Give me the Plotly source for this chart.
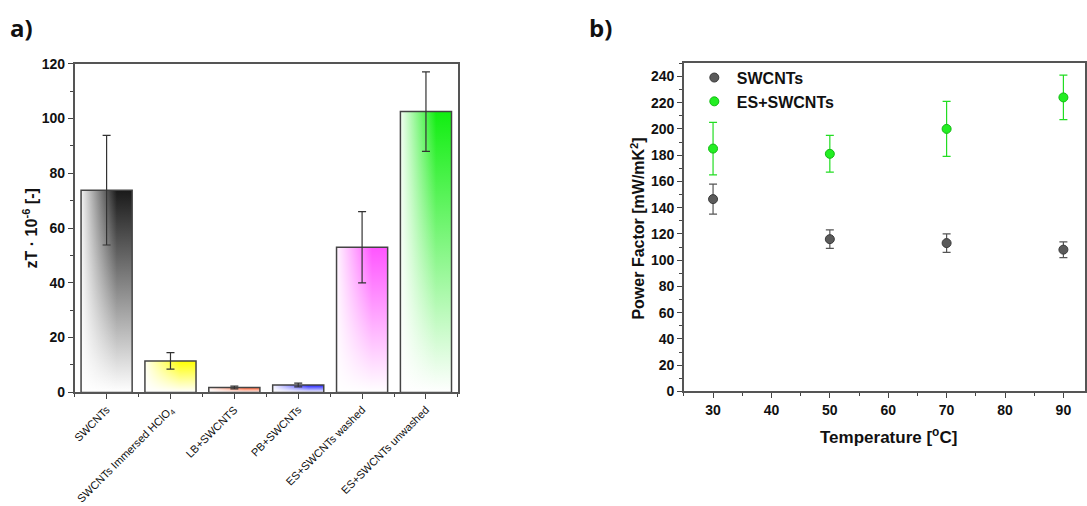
import plotly.graph_objects as go

W, H = 1087, 506

# ---- data: panel a ----
categories = ["SWCNTs", "SWCNTs Immersed HClO<sub>4</sub>", "LB+SWCNTS", "PB+SWCNTs",
              "ES+SWCNTs washed", "ES+SWCNTs unwashed"]
zt_values = [73.8, 11.5, 1.8, 2.7, 53.0, 102.5]
zt_errors = [20.0, 3.0, 0.5, 0.7, 13.0, 14.5]
bar_colors = ["#1a1a1a", "#ffff00", "#ff5a2a", "#1a1aff", "#ff55ff", "#11ee11"]

# ---- data: panel b ----
temperature = [30, 50, 70, 90]
pf_swcnt = [146.5, 116, 113, 108]
pf_swcnt_err = [11.5, 7, 7, 6]
pf_es = [185, 181, 200, 224]
pf_es_err = [20, 14, 21, 17]

FONT = "Liberation Sans"


def py(pix):
    """paper y for a target pixel row (compensates observed vertical offset/scale)"""
    return 1 - ((pix - 8) / 0.967) / H


fig = go.Figure()

hw = 0.4
for i, (v, c) in enumerate(zip(zt_values, bar_colors)):
    xs = [i - hw, i - hw, i + hw, i + hw, i - hw]
    ys = [0, v, v, 0, 0]
    fig.add_trace(go.Scatter(
        x=xs, y=ys, fill="toself", mode="lines", line=dict(width=0),
        fillgradient=dict(type="vertical", colorscale=[[0, "rgba(255,255,255,1)"], [1, c]]),
        showlegend=False, hoverinfo="skip", xaxis="x", yaxis="y"))
    fig.add_trace(go.Scatter(
        x=xs, y=ys, fill="toself", mode="lines", line=dict(width=1.5, color="#444444"),
        fillgradient=dict(type="horizontal",
                          colorscale=[[0, "rgba(255,255,255,0.95)"], [0.7, "rgba(255,255,255,0)"],
                                      [1, "rgba(255,255,255,0)"]]),
        showlegend=False, hoverinfo="skip", xaxis="x", yaxis="y"))

fig.add_trace(go.Scatter(
    x=list(range(len(categories))), y=zt_values, mode="markers",
    marker=dict(size=1, color="rgba(0,0,0,0)"),
    error_y=dict(type="data", array=zt_errors, color="#333333", thickness=1.2, width=4),
    showlegend=False, hoverinfo="skip", xaxis="x", yaxis="y"))

# panel b
fig.add_trace(go.Scatter(
    x=temperature, y=pf_swcnt, mode="markers", name="SWCNTs",
    marker=dict(size=9, color="#5a5a5a", line=dict(color="#3a3a3a", width=1)),
    error_y=dict(type="data", array=pf_swcnt_err, color="#555555", thickness=1.2, width=4),
    xaxis="x2", yaxis="y2"))
fig.add_trace(go.Scatter(
    x=temperature, y=pf_es, mode="markers", name="ES+SWCNTs",
    marker=dict(size=9, color="#22ee22", line=dict(color="#11bb11", width=1)),
    error_y=dict(type="data", array=pf_es_err, color="#22dd22", thickness=1.2, width=4),
    xaxis="x2", yaxis="y2"))

axcommon = dict(showline=True, linecolor="#555555", linewidth=1.5, mirror=True,
                showgrid=False, zeroline=False, ticks="outside", ticklen=5,
                tickcolor="#444444", tickwidth=1.2)
tickbold = dict(family=FONT, size=14, color="#111111", weight="bold")

fig.update_layout(
    width=W, height=H, margin=dict(l=0, r=0, t=0, b=0),
    paper_bgcolor="white", plot_bgcolor="white",
    xaxis=dict(domain=[72 / W, 457 / W], range=[-0.5, 5.5],
               tickmode="array", tickvals=list(range(len(categories))), ticktext=categories,
               tickangle=-45, tickfont=dict(family=FONT, size=11, color="#111111"),
               minor=dict(ticks="outside", ticklen=3, tickcolor="#444444",
                          tickvals=[k - 0.5 for k in range(len(categories) + 1)]),
               **axcommon),
    yaxis=dict(domain=[py(395), py(64)], range=[0, 120], tick0=0, dtick=20,
               tickfont=tickbold,
               minor=dict(ticks="outside", ticklen=3, tickcolor="#444444", dtick=10),
               **axcommon),
    xaxis2=dict(domain=[684 / W, 1.0], range=[25, 93.7], tick0=0, dtick=10,
                tickfont=tickbold, anchor="y2",
                minor=dict(ticks="outside", ticklen=3, tickcolor="#444444", dtick=5),
                **axcommon),
    yaxis2=dict(domain=[py(394), py(63)], range=[0, 250.5], tick0=0, dtick=20,
                tickfont=tickbold, anchor="x2",
                minor=dict(ticks="outside", ticklen=3, tickcolor="#444444", dtick=10),
                **axcommon),
    legend=dict(x=692 / W, y=py(61), xanchor="left", yanchor="top",
                bgcolor="rgba(0,0,0,0)", itemwidth=35,
                font=dict(family=FONT, size=16, color="#111111", weight="bold"),
                tracegroupgap=0),
    showlegend=True,
)

ann = []
ann.append(dict(text="<b>a)</b>", x=5 / W, y=py(28), xref="paper", yref="paper",
                xanchor="left", yanchor="middle", showarrow=False,
                font=dict(family="Open Sans", size=24, color="#111111")))
ann.append(dict(text="<b>b)</b>", x=587 / W, y=py(28), xref="paper", yref="paper",
                xanchor="left", yanchor="middle", showarrow=False,
                font=dict(family="Open Sans", size=24, color="#111111")))
ann.append(dict(text="<b>zT · 10<sup>-6</sup> [-]</b>", x=27 / W, y=py(230),
                xref="paper", yref="paper", xanchor="center", yanchor="middle",
                textangle=-90, showarrow=False,
                font=dict(family=FONT, size=16, color="#111111")))
ann.append(dict(text="<b>Power Factor [mW/mK<sup>2</sup>]</b>", x=637 / W, y=py(230),
                xref="paper", yref="paper", xanchor="center", yanchor="middle",
                textangle=-90, showarrow=False,
                font=dict(family=FONT, size=16, color="#111111")))
ann.append(dict(text="<b>Temperature [<sup>o</sup>C]</b>", x=890 / W, y=py(439),
                xref="paper", yref="paper", xanchor="center", yanchor="middle",
                showarrow=False, font=dict(family=FONT, size=17, color="#111111")))
fig.update_layout(annotations=ann)

fig.write_html(
    "out.html",
    config={"displayModeBar": False},
    post_script=("document.documentElement.style.margin='0';"
                 "document.body.style.margin='0';document.body.style.padding='0';"
                 "document.documentElement.style.overflow='hidden';"
                 "document.body.style.overflow='hidden';"),
)
